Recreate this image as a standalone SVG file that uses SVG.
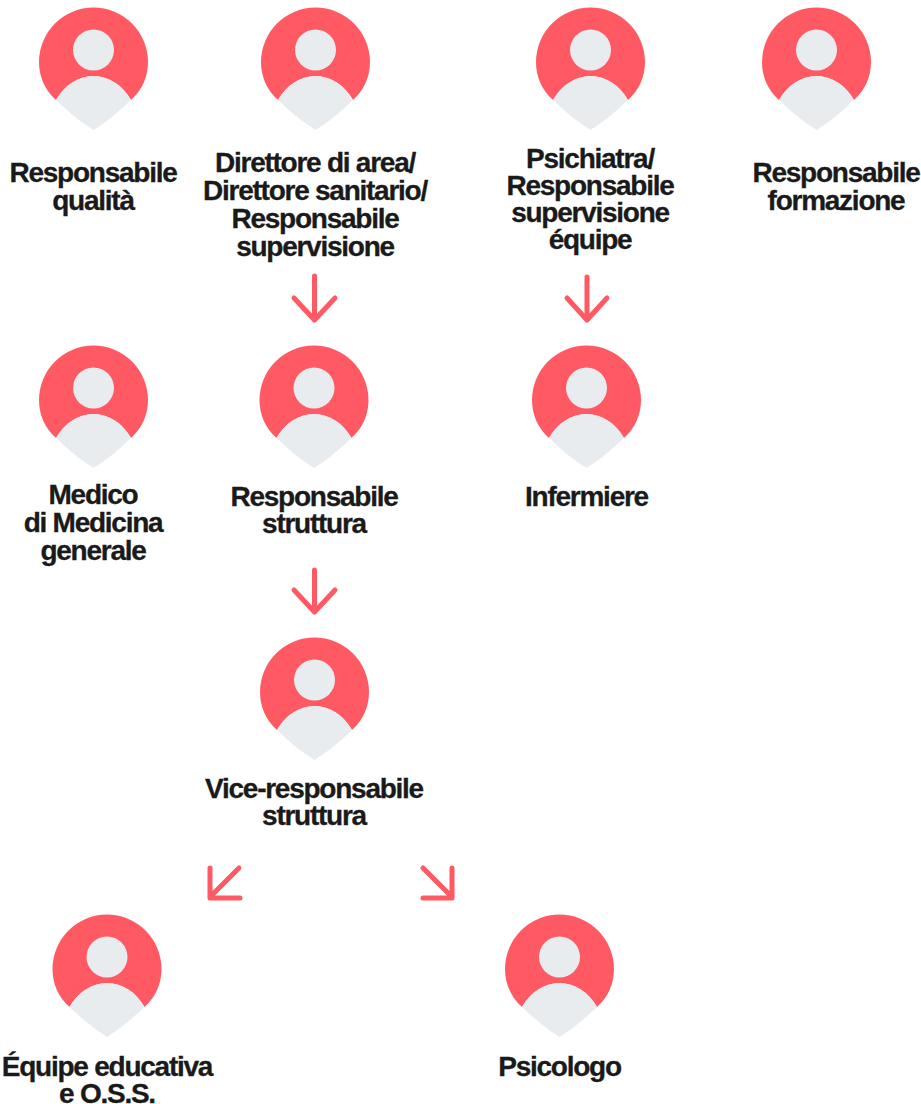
<svg xmlns="http://www.w3.org/2000/svg" width="921" height="1104" viewBox="0 0 921 1104">
<style>
.t{font-family:"Liberation Sans",Arial,sans-serif;font-weight:700;font-size:28px;letter-spacing:-1.250px;fill:#1a1a1a;stroke:#1a1a1a;stroke-width:.3px;text-anchor:middle}
.a{fill:none;stroke:#ff5a64;stroke-width:5px;stroke-linecap:round;stroke-linejoin:round}
</style>
<defs>
<g id="pin">
<path d="M-37.500 38C-49 28-54.500 14-54.500 0A54.500 54.500 0 0 1 54.500 0C54.500 14 49 28 37.500 38C29 23 15 14 0 14S-29 23-37.500 38Z" fill="#ff5a64"/>
<path d="M-37.500 38C-29 23-15 14 0 14S29 23 37.500 38C26 49 13 60 0 68C-13 60-26 49-37.500 38Z" fill="#e9ecef"/>
<circle cx="0" cy="-12" r="20.500" fill="#e9ecef"/>
</g>
</defs>
<rect width="921" height="1104" fill="#fff"/>
<g id="connectors">
<path class="a" d="M314.500 276V320M294 298L314.500 320L335 298"/>
<path class="a" d="M587 277V320M567 298L587 320L607 298"/>
<path class="a" d="M314.500 570V612M294 590L314.500 612L335 590"/>
<path class="a" d="M239 868L210 897M210 868V898H240"/>
<path class="a" d="M423 868L452 897M452 868V898H423"/>
</g>
<g id="n1"><use href="#pin" x="93.500" y="62"/><text class="t" x="93" y="182">Responsabile</text><text class="t" x="93" y="210">qualità</text></g>
<g id="n2"><use href="#pin" x="315.500" y="62"/><text class="t" x="315" y="172">Direttore di area/</text><text class="t" x="315" y="200">Direttore sanitario/</text><text class="t" x="315" y="228">Responsabile</text><text class="t" x="315" y="256">supervisione</text></g>
<g id="n3"><use href="#pin" x="590.500" y="62"/><text class="t" x="590" y="168">Psichiatra/</text><text class="t" x="590" y="195">Responsabile</text><text class="t" x="590" y="222">supervisione</text><text class="t" x="590" y="249">équipe</text></g>
<g id="n4"><use href="#pin" x="816.500" y="62"/><text class="t" x="836" y="182">Responsabile</text><text class="t" x="836" y="210">formazione</text></g>
<g id="n5"><use href="#pin" x="93.500" y="400"/><text class="t" x="93" y="504">Medico</text><text class="t" x="93" y="532">di Medicina</text><text class="t" x="93" y="560">generale</text></g>
<g id="n6"><use href="#pin" x="314" y="400"/><text class="t" x="314" y="506">Responsabile</text><text class="t" x="314" y="533">struttura</text></g>
<g id="n7"><use href="#pin" x="586.500" y="400"/><text class="t" x="586.500" y="506">Infermiere</text></g>
<g id="n8"><use href="#pin" x="314.500" y="692"/><text class="t" x="314" y="798">Vice-responsabile</text><text class="t" x="314" y="825">struttura</text></g>
<g id="n9"><use href="#pin" x="107" y="969"/><text class="t" x="107" y="1076">Équipe educativa</text><text class="t" x="107" y="1103">e O.S.S.</text></g>
<g id="n10"><use href="#pin" x="559.500" y="969"/><text class="t" x="559.500" y="1076">Psicologo</text></g>
</svg>
